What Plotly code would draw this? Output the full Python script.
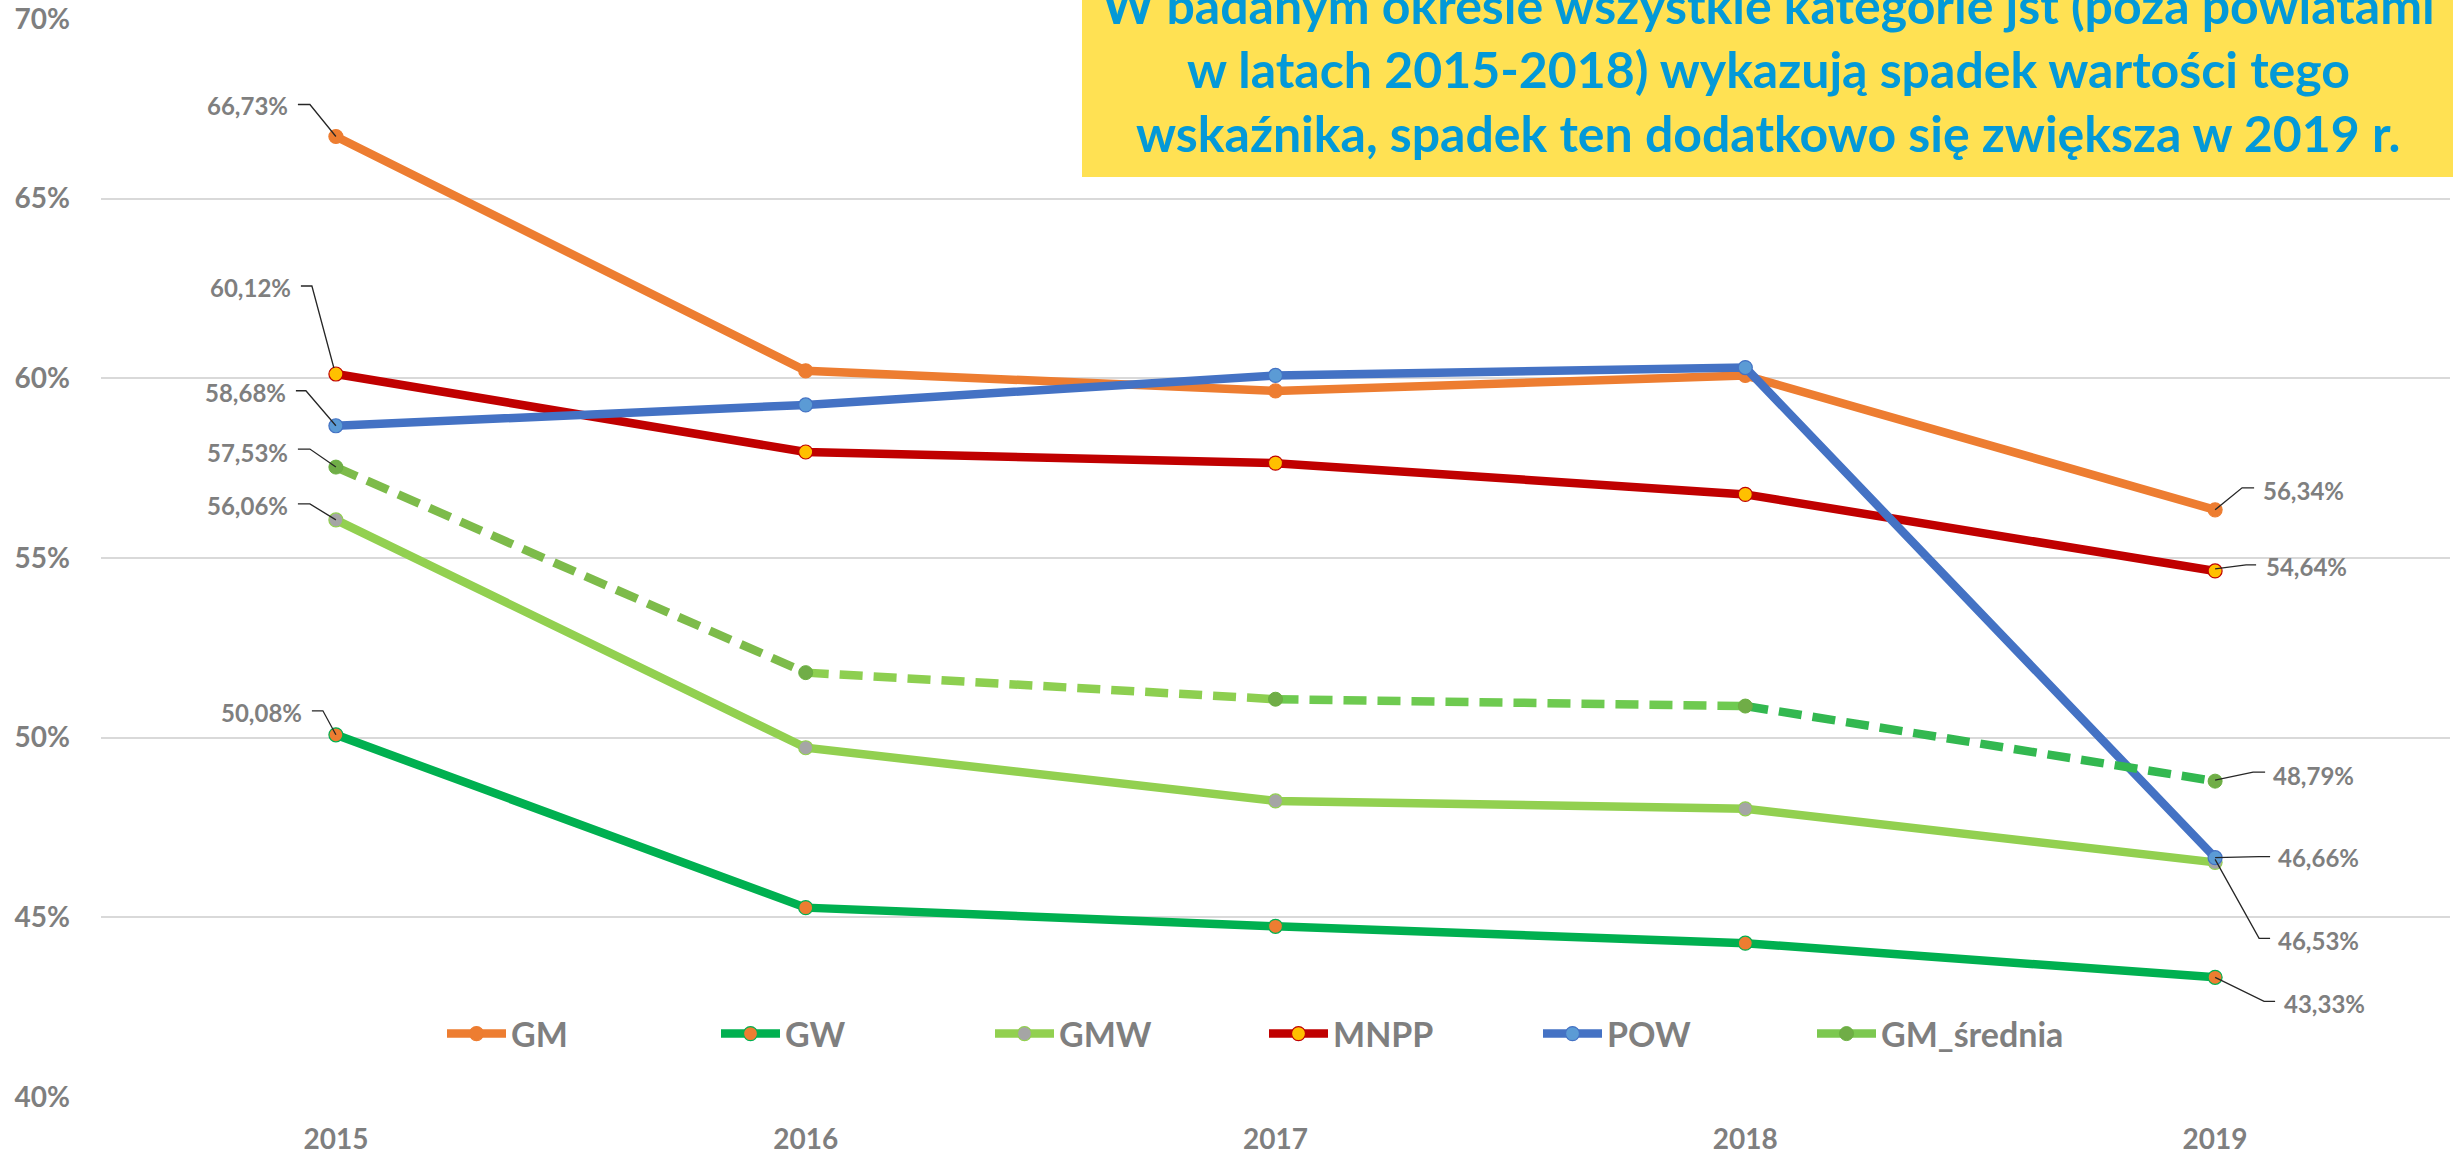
import plotly.graph_objects as go

years = ['2015', '2016', '2017', '2018', '2019']
series_names = ['GM', 'GW', 'GMW', 'MNPP', 'POW', 'GM_średnia']
gm = [66.73, 60.21, 59.65, 60.08, 56.34]
gw = [50.08, 45.27, 44.75, 44.28, 43.33]
gmw = [56.06, 49.72, 48.24, 48.02, 46.53]
mnpp = [60.12, 57.95, 57.64, 56.77, 54.64]
pow_ = [58.68, 59.26, 60.08, 60.30, 46.66]
gm_sr = [57.53, 51.81, 51.07, 50.88, 48.79]
y_ticks = [40, 45, 50, 55, 60, 65, 70]
y_tick_labels = ['40%', '45%', '50%', '55%', '60%', '65%', '70%']
title_lines = [
    'W badanym okresie wszystkie kategorie jst (poza powiatami',
    'w latach 2015-2018) wykazują spadek wartości tego',
    'wskaźnika, spadek ten dodatkowo się zwiększa w 2019 r.',
]

W, H = 2453, 1155
ML, MR, MT, MB = 101, 3, 19, 58
PH = H - MT - MB
PW = W - ML - MR

FONT = 'Lato'
GRAY = '#7F7F7F'
LW = 8.5

line_colors = ['#ED7D31', '#00B050', '#92D050', '#C00000', '#4472C4', '#7CC850']
marker_colors = ['#ED7D31', '#ED7D31', '#A5A5A5', '#FFC000', '#5B9BD5', '#70AD47']
sr_seg_colors = ['#7DBB4A', '#8DCF50', '#6ECA50', '#33B850']
data = [gm, gw, gmw, mnpp, pow_, gm_sr]
xi = list(range(len(years)))

fig = go.Figure()
for i in range(5):
    fig.add_trace(go.Scatter(
        x=xi, y=data[i], name=series_names[i], mode='lines+markers',
        line=dict(color=line_colors[i], width=LW),
        marker=dict(color=marker_colors[i], size=14,
                    line=dict(color=line_colors[i], width=1.2)),
        hoverinfo='skip'))

# GM_średnia: gradient dashed line drawn as segments
for k in range(4):
    fig.add_trace(go.Scatter(
        x=xi[k:k + 2], y=gm_sr[k:k + 2], mode='lines', showlegend=False,
        line=dict(color=sr_seg_colors[k], width=LW, dash='23px,11px'),
        hoverinfo='skip'))
fig.add_trace(go.Scatter(
    x=xi, y=gm_sr, mode='markers', showlegend=False,
    marker=dict(color=marker_colors[5], size=14, line=dict(color='#6AB040', width=1)),
    hoverinfo='skip'))
# legend entry for GM_średnia
fig.add_trace(go.Scatter(
    x=[None], y=[None], name=series_names[5], mode='lines+markers',
    line=dict(color=line_colors[5], width=LW),
    marker=dict(color=marker_colors[5], size=14, line=dict(color='#6AB040', width=1))))

# data labels: (series index, point index, anchor side, label dx, label dy, leader points) in screen px (y down)
label_cfg = [
    (0, 0, 'right', -46, -31, [(-38, -32), (-26, -32), (0, 0)]),
    (3, 0, 'right', -43, -87, [(-35, -88), (-24, -88), (-2, -6)]),
    (4, 0, 'right', -48, -33, [(-40, -35), (-30, -35), (0, 0)]),
    (5, 0, 'right', -46, -15, [(-38, -18), (-26, -18), (0, 0)]),
    (2, 0, 'right', -46, -14, [(-38, -16), (-26, -16), (0, 0)]),
    (1, 0, 'right', -32, -22, [(-24, -24), (-13, -24), (0, 0)]),
    (0, 4, 'left', 46, -19, [(0, 0), (27, -22), (39, -22)]),
    (3, 4, 'left', 49, -4, [(0, -2), (31, -6), (41, -6)]),
    (5, 4, 'left', 56, -6, [(0, -1), (38, -9), (50, -9)]),
    (4, 4, 'left', 61, 0, [(0, 0), (44, -1), (55, -1)]),
    (2, 4, 'left', 61, 78, [(0, -3), (44, 76), (55, 76)]),
    (1, 4, 'left', 67, 26, [(0, 0), (49, 24), (60, 24)]),
]

annotations = []
shapes = []
for si, pi, side, dx, dy, pts in label_cfg:
    val = data[si][pi]
    txt = f'{val:.2f}'.replace('.', ',') + '%'
    annotations.append(dict(
        x=xi[pi], y=val, xref='x', yref='y', text=txt, showarrow=False,
        xanchor=side, yanchor='middle', xshift=dx, yshift=-dy,
        font=dict(family=FONT, size=24, color=GRAY, weight='bold')))
    path = 'M' + ' L'.join(f'{px},{-py}' for px, py in pts)
    shapes.append(dict(
        type='path', xref='x', yref='y', xsizemode='pixel', ysizemode='pixel',
        xanchor=xi[pi], yanchor=val, path=path,
        line=dict(color='#262626', width=1.3), layer='above'))


def py2paper(py):
    return (H - MB - py) / PH


def px2paper(px):
    return (px - ML) / PW


# yellow text box (top right)
shapes.append(dict(type='rect', xref='paper', yref='paper',
                   x0=px2paper(1082), x1=px2paper(W + 5), y0=py2paper(177), y1=py2paper(-5),
                   fillcolor='#FFE153', line=dict(width=0), layer='above'))
for j, t in enumerate(title_lines):
    annotations.append(dict(
        x=px2paper(1768), y=py2paper(22 + 64 * j - 17), xref='paper', yref='paper',
        text=t, showarrow=False, xanchor='center', yanchor='middle',
        font=dict(family=FONT, size=50, color='#0399D8', weight='bold')))

fig.update_layout(
    width=W, height=H,
    margin=dict(l=ML, r=MR, t=MT, b=MB, pad=0, autoexpand=False),
    paper_bgcolor='white', plot_bgcolor='white',
    showlegend=True,
    legend=dict(orientation='h', x=px2paper(442), xanchor='left',
                y=py2paper(1034), yanchor='middle',
                font=dict(family=FONT, size=34, color=GRAY, weight='bold'),
                bgcolor='rgba(0,0,0,0)', itemwidth=59, entrywidth=200,
                entrywidthmode='pixels'),
    xaxis=dict(range=[-0.5, 4.5], tickvals=xi, ticktext=years, showgrid=False,
               zeroline=False, showline=False, ticks='', ticklabelstandoff=23,
               automargin=False,
               tickfont=dict(family=FONT, size=28, color=GRAY, weight='bold')),
    yaxis=dict(range=[40, 70], tickvals=y_ticks, ticktext=y_tick_labels, showgrid=True,
               gridcolor='#D9D9D9', gridwidth=2, zeroline=False, showline=False,
               ticks='', ticklabelstandoff=30, automargin=False,
               tickfont=dict(family=FONT, size=28, color=GRAY, weight='bold')),
    annotations=annotations, shapes=shapes,
)

fig.write_html('out.html', config={'displayModeBar': False},
               post_script="document.body.style.margin='0';")
